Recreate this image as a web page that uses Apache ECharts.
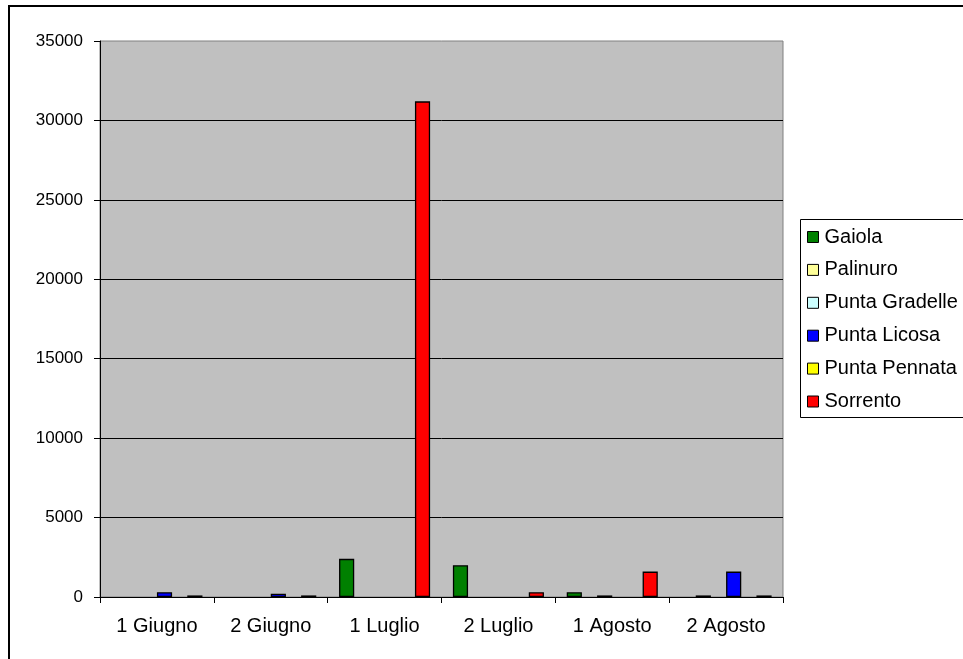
<!DOCTYPE html>
<html>
<head>
<meta charset="utf-8">
<script src="https://cdn.jsdelivr.net/npm/echarts@6/dist/echarts.min.js"></script>
<style>
html,body{margin:0;padding:0;background:#fff;}
#c{width:963px;height:659px;}
</style>
</head>
<body>
<div id="c"></div>
<script>
const categories = ['1 Giugno', '2 Giugno', '1 Luglio', '2 Luglio', '1 Agosto', '2 Agosto'];
const seriesNames = ['Gaiola', 'Palinuro', 'Punta Gradelle', 'Punta Licosa', 'Punta Pennata', 'Sorrento'];
const gaiola = [null, null, 2400, 2000, 300, null];
const palinuro = [null, null, null, null, null, 100];
const puntaGradelle = [null, null, null, null, 100, null];
const puntaLicosa = [300, 200, null, null, null, 1600];
const puntaPennata = [null, null, null, null, null, null];
const sorrento = [100, 100, 31200, 300, 1600, 100];
const yTicks = [0, 5000, 10000, 15000, 20000, 25000, 30000, 35000];

const seriesData = [gaiola, palinuro, puntaGradelle, puntaLicosa, puntaPennata, sorrento];
const colors = ['#008000', '#FFFF99', '#CCFFFF', '#0000FF', '#FFFF00', '#FF0000'];

const chart = echarts.init(document.getElementById('c'), null, {renderer: 'canvas'});
const font = 'Liberation Sans, Arial, sans-serif';

chart.setOption({
  animation: false,
  backgroundColor: '#ffffff',
  textStyle: {fontFamily: font},
  graphic: [
    {type: 'rect', z: -10, shape: {x: 9, y: 6, width: 1000, height: 700},
     style: {fill: 'none', stroke: '#000', lineWidth: 2}},
    {type: 'rect', z: -5, shape: {x: 800.5, y: 219.5, width: 200, height: 198},
     style: {fill: '#fff', stroke: '#000', lineWidth: 1}}
  ],
  grid: {
    left: 100, top: 41, width: 683, height: 556,
    show: true, backgroundColor: '#C0C0C0', borderColor: '#808080', borderWidth: 1
  },
  legend: {
    orient: 'vertical',
    left: 807, top: 227,
    padding: 0,
    itemWidth: 11, itemHeight: 11,
    itemGap: 12.9,
    icon: 'rect',
    data: seriesNames,
    textStyle: {fontSize: 20, color: '#000', fontFamily: font, lineHeight: 20, padding: [0, 0, 0, 1]},
    itemStyle: {borderColor: '#000', borderWidth: 1}
  },
  xAxis: {
    type: 'category',
    data: categories,
    boundaryGap: true,
    axisLine: {lineStyle: {color: '#000', width: 1}},
    axisTick: {show: true, length: 6, alignWithLabel: false, lineStyle: {color: '#000'}},
    axisLabel: {fontSize: 20, color: '#000', margin: 19, fontFamily: font}
  },
  yAxis: {
    type: 'value',
    min: yTicks[0], max: yTicks[yTicks.length - 1], interval: yTicks[1] - yTicks[0],
    axisLine: {show: true, lineStyle: {color: '#000', width: 1}},
    axisTick: {show: true, length: 6, lineStyle: {color: '#000'}},
    axisLabel: {fontSize: 17, color: '#000', margin: 17, fontFamily: font, formatter: v => String(v)},
    splitLine: {show: true, showMaxLine: false, lineStyle: {color: '#000', width: 1}}
  },
  series: seriesNames.map((name, i) => ({
    name: name,
    type: 'bar',
    data: seriesData[i],
    barGap: '0%',
    barCategoryGap: '20%',
    itemStyle: {color: colors[i], borderColor: '#000', borderWidth: 1.3}
  }))
});
</script>
</body>
</html>
